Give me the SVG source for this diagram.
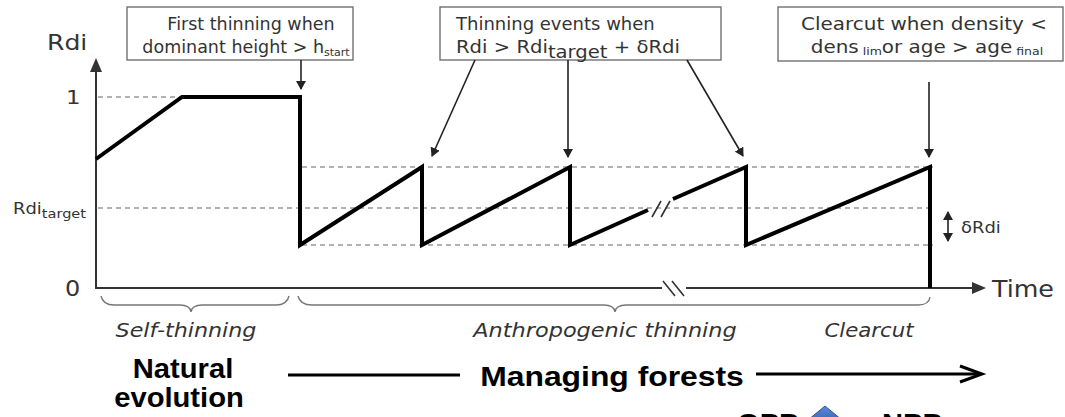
<svg xmlns="http://www.w3.org/2000/svg" width="1065" height="417" viewBox="0 0 1065 417">
  <style>
    .lbl { font-family: "DejaVu Sans", Verdana, sans-serif; fill: #333; }
    .box { fill: #fff; stroke: #666; stroke-width: 1.3; }
    .guide { fill: none; stroke: #666; stroke-width: 1.2; stroke-dasharray: 5 4; }
    .axis { fill: none; stroke: #333; stroke-width: 2; }
    .curve { fill: none; stroke: #000; stroke-width: 4; stroke-linejoin: miter; }
    .ptr { fill: none; stroke: #222; stroke-width: 1.6; marker-end: url(#head); }
    .brace { fill: none; stroke: #777; stroke-width: 1.4; }
    .phase { font-family: "DejaVu Sans", Verdana, sans-serif; font-style: italic; fill: #333; font-size: 19px; }
    .big { font-family: "Liberation Sans", Arial, sans-serif; font-weight: bold; font-size: 27px; fill: #000; }
  </style>
  <defs>
    <marker id="head" markerWidth="10" markerHeight="10" refX="8" refY="5" orient="auto" markerUnits="userSpaceOnUse">
      <path d="M0,0 L9,5 L0,10 Z" fill="#222"/>
    </marker>
    <marker id="headStart" markerWidth="10" markerHeight="10" refX="1" refY="5" orient="auto" markerUnits="userSpaceOnUse">
      <path d="M9,0 L0,5 L9,10 Z" fill="#222"/>
    </marker>
    <linearGradient id="blueUp" x1="0" y1="0" x2="0" y2="1">
      <stop offset="0" stop-color="#5b8ad6"/>
      <stop offset="1" stop-color="#3e6bb8"/>
    </linearGradient>
  </defs>

  <rect width="1065" height="417" fill="#fff"/>

  <!-- axes -->
  <g id="axes">
    <line class="axis" x1="96" y1="289" x2="96" y2="68"/>
    <path d="M90,72 L96,58 L102,72 Z" fill="#333"/>
    <path class="axis" d="M96,288 H662 M686,288 H975"/>
    <path d="M972,282 L986,288 L972,294 Z" fill="#333"/>
    <path d="M663,281 L675,296 M672,281 L684,296" stroke="#333" stroke-width="1.6" fill="none"/>
    <text class="lbl" transform="translate(47,50) scale(1.14,1)" font-size="22">Rdi</text>
    <text class="lbl" transform="translate(66,104) scale(1.14,1)" font-size="20">1</text>
    <text class="lbl" transform="translate(65,296) scale(1.14,1)" font-size="21">0</text>
    <text class="lbl" transform="translate(13,214) scale(1.12,1)" font-size="16">Rdi<tspan font-size="13" dy="4">target</tspan></text>
    <text class="lbl" transform="translate(992,297) scale(1.1,1)" font-size="23">Time</text>
  </g>

  <!-- reference levels -->
  <g id="guides">
    <line class="guide" x1="98" y1="97" x2="182" y2="97"/>
    <line class="guide" x1="302" y1="167" x2="933" y2="167"/>
    <line class="guide" x1="98" y1="208" x2="935" y2="208"/>
    <line class="guide" x1="302" y1="245" x2="933" y2="245"/>
  </g>

  <!-- Rdi trajectory -->
  <g id="trajectory">
    <path class="curve" d="M96,159 L182,97 L300,97 L300,245 L422,167 L422,245 L570,167 L570,245 L648,210"/>
    <path class="curve" d="M673,199 L746,167 L746,245 L930,167 L930,288"/>
    <path d="M652,217 L661,201 M661,217 L670,201" stroke="#333" stroke-width="1.6" fill="none"/>
  </g>

  <!-- delta Rdi band -->
  <g id="delta">
    <line x1="948" y1="212" x2="948" y2="241" stroke="#222" stroke-width="1.6" marker-start="url(#headStart)" marker-end="url(#head)"/>
    <text class="lbl" transform="translate(961,233) scale(1.12,1)" font-size="16">δRdi</text>
  </g>

  <!-- annotation boxes -->
  <g id="box-first">
    <rect class="box" x="127" y="7" width="226" height="53"/>
    <text class="lbl" text-anchor="middle" x="251" y="30" font-size="17.5">First thinning when</text>
    <text class="lbl" text-anchor="middle" x="246" y="53" font-size="17.5">dominant height &gt; h<tspan font-size="11" dy="3">start</tspan></text>
  </g>
  <g id="box-thinning">
    <rect class="box" x="440" y="7" width="281" height="53"/>
    <text class="lbl" x="456" y="30" font-size="18">Thinning events when</text>
    <text class="lbl" transform="translate(456,53) scale(1.09,1)" font-size="18">Rdi &gt; Rdi<tspan dy="5">target</tspan><tspan dy="-5"> + δRdi</tspan></text>
  </g>
  <g id="box-clearcut">
    <rect class="box" x="778" y="7" width="285" height="54"/>
    <text class="lbl" text-anchor="middle" transform="translate(924,30) scale(1.14,1)" font-size="17.5">Clearcut when density &lt;</text>
    <text class="lbl" text-anchor="middle" transform="translate(927,53) scale(1.14,1)" font-size="17.5">dens<tspan font-size="11" dy="2"> lim</tspan><tspan dy="-2">or age &gt; age</tspan><tspan font-size="11" dy="2"> final</tspan></text>
  </g>

  <!-- pointers from boxes to events -->
  <g id="connectors">
    <line class="ptr" x1="301" y1="60" x2="301" y2="89"/>
    <line class="ptr" x1="475" y1="60" x2="432" y2="156"/>
    <line class="ptr" x1="568" y1="60" x2="568" y2="157"/>
    <line class="ptr" x1="687" y1="60" x2="743" y2="156"/>
    <line class="ptr" x1="929" y1="82" x2="929" y2="157"/>
  </g>

  <!-- phase braces -->
  <g id="phases">
    <path class="brace" d="M101,296 Q103,305 114,305 L180,305 Q190,305 191,312 Q192,305 202,305 L276,305 Q287,305 289,296"/>
    <path class="brace" d="M298,296 Q300,305 312,305 L604,305 Q614,305 615,312 Q616,305 626,305 L918,305 Q929,305 930,297"/>
    <text class="phase" text-anchor="middle" transform="translate(186,337) scale(1.17,1)">Self-thinning</text>
    <text class="phase" text-anchor="middle" transform="translate(605,337) scale(1.18,1)">Anthropogenic thinning</text>
    <text class="phase" text-anchor="middle" transform="translate(869,337) scale(1.12,1)">Clearcut</text>
  </g>

  <!-- management timeline -->
  <g id="timeline">
    <text class="big" text-anchor="middle" transform="translate(183,378) scale(1.08,1)">Natural</text>
    <text class="big" text-anchor="middle" transform="translate(179,407) scale(1.08,1)">evolution</text>
    <line x1="288" y1="375" x2="460" y2="375" stroke="#000" stroke-width="3"/>
    <text class="big" text-anchor="middle" transform="translate(612,386) scale(1.18,1)">Managing forests</text>
    <line x1="756" y1="374" x2="981" y2="374" stroke="#000" stroke-width="3"/>
    <path d="M960,366 L982,374 L960,382" fill="none" stroke="#000" stroke-width="3"/>
  </g>

  <!-- productivity row -->
  <g id="productivity">
    <text class="big" transform="translate(737,433) scale(1.08,1)">GPP</text>
    <path d="M825,406 L842,420 L808,420 Z" fill="url(#blueUp)" stroke="#2f528f" stroke-width="1"/>
    <text class="big" transform="translate(882,433) scale(1.08,1)">NPP</text>
  </g>
</svg>
